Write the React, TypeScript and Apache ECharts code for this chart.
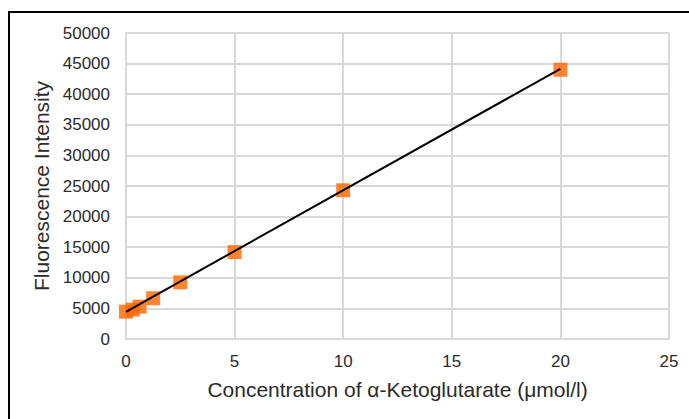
import React, { useEffect, useRef } from "react";
import * as echarts from "echarts";

const concentrations = [0, 0.3125, 0.625, 1.25, 2.5, 5, 10, 20];
const intensities = [4460, 4800, 5280, 6650, 9260, 14200, 24300, 44000];
const trendX = [0, 20];
const trendY = [4450, 44150];
const xTitle = "Concentration of α-Ketoglutarate (μmol/l)";
const yTitle = "Fluorescence Intensity";

export default function App() {
  const ref = useRef<HTMLDivElement>(null);
  useEffect(() => {
    const chart = echarts.init(ref.current!, null, { renderer: "svg" });
    const font = "Liberation Sans, Arial, sans-serif";
    const textColor = "#2b2b2b";
    chart.setOption({
      animation: false,
      backgroundColor: "#ffffff",
      grid: { left: 126, right: 20, top: 33, bottom: 80 },
      graphic: [
        {
          type: "rect",
          shape: { x: 9, y: 12, width: 720, height: 440 },
          style: { fill: "none", stroke: "#000000", lineWidth: 2 },
          silent: true,
        },
      ],
      xAxis: {
        type: "value",
        min: 0,
        max: 25,
        interval: 5,
        name: xTitle,
        nameLocation: "middle",
        nameGap: 40,
        nameTextStyle: { fontFamily: font, fontSize: 21, color: textColor },
        axisLine: { show: true, lineStyle: { color: "#d9d9d9", width: 2 } },
        axisTick: { show: false },
        axisLabel: {
          fontFamily: font,
          fontSize: 17,
          color: textColor,
          margin: 14,
          formatter: (v: number) => String(v),
        },
        splitLine: { show: true, lineStyle: { color: "#d9d9d9", width: 2 } },
      },
      yAxis: {
        type: "value",
        min: 0,
        max: 50000,
        interval: 5000,
        name: yTitle,
        nameLocation: "middle",
        nameRotate: 90,
        nameGap: 68,
        nameTextStyle: { fontFamily: font, fontSize: 21, color: textColor },
        axisLine: { show: true, lineStyle: { color: "#d9d9d9", width: 2 } },
        axisTick: { show: false },
        axisLabel: {
          fontFamily: font,
          fontSize: 17,
          color: textColor,
          margin: 16,
          formatter: (v: number) => String(v),
        },
        splitLine: { show: true, lineStyle: { color: "#d9d9d9", width: 2 } },
      },
      series: [
        {
          type: "scatter",
          data: concentrations.map((c, i) => [c, intensities[i]]),
          symbol: "rect",
          symbolSize: 14,
          itemStyle: { color: "#ff6600" },
          z: 2,
        },
        {
          type: "line",
          data: trendX.map((x, i) => [x, trendY[i]]),
          symbol: "none",
          lineStyle: { color: "#000000", width: 2 },
          z: 3,
        },
      ],
    });
    return () => chart.dispose();
  }, []);
  return (
    <div
      ref={ref}
      style={{ position: "absolute", left: 0, top: 0, width: 689, height: 419 }}
    />
  );
}
